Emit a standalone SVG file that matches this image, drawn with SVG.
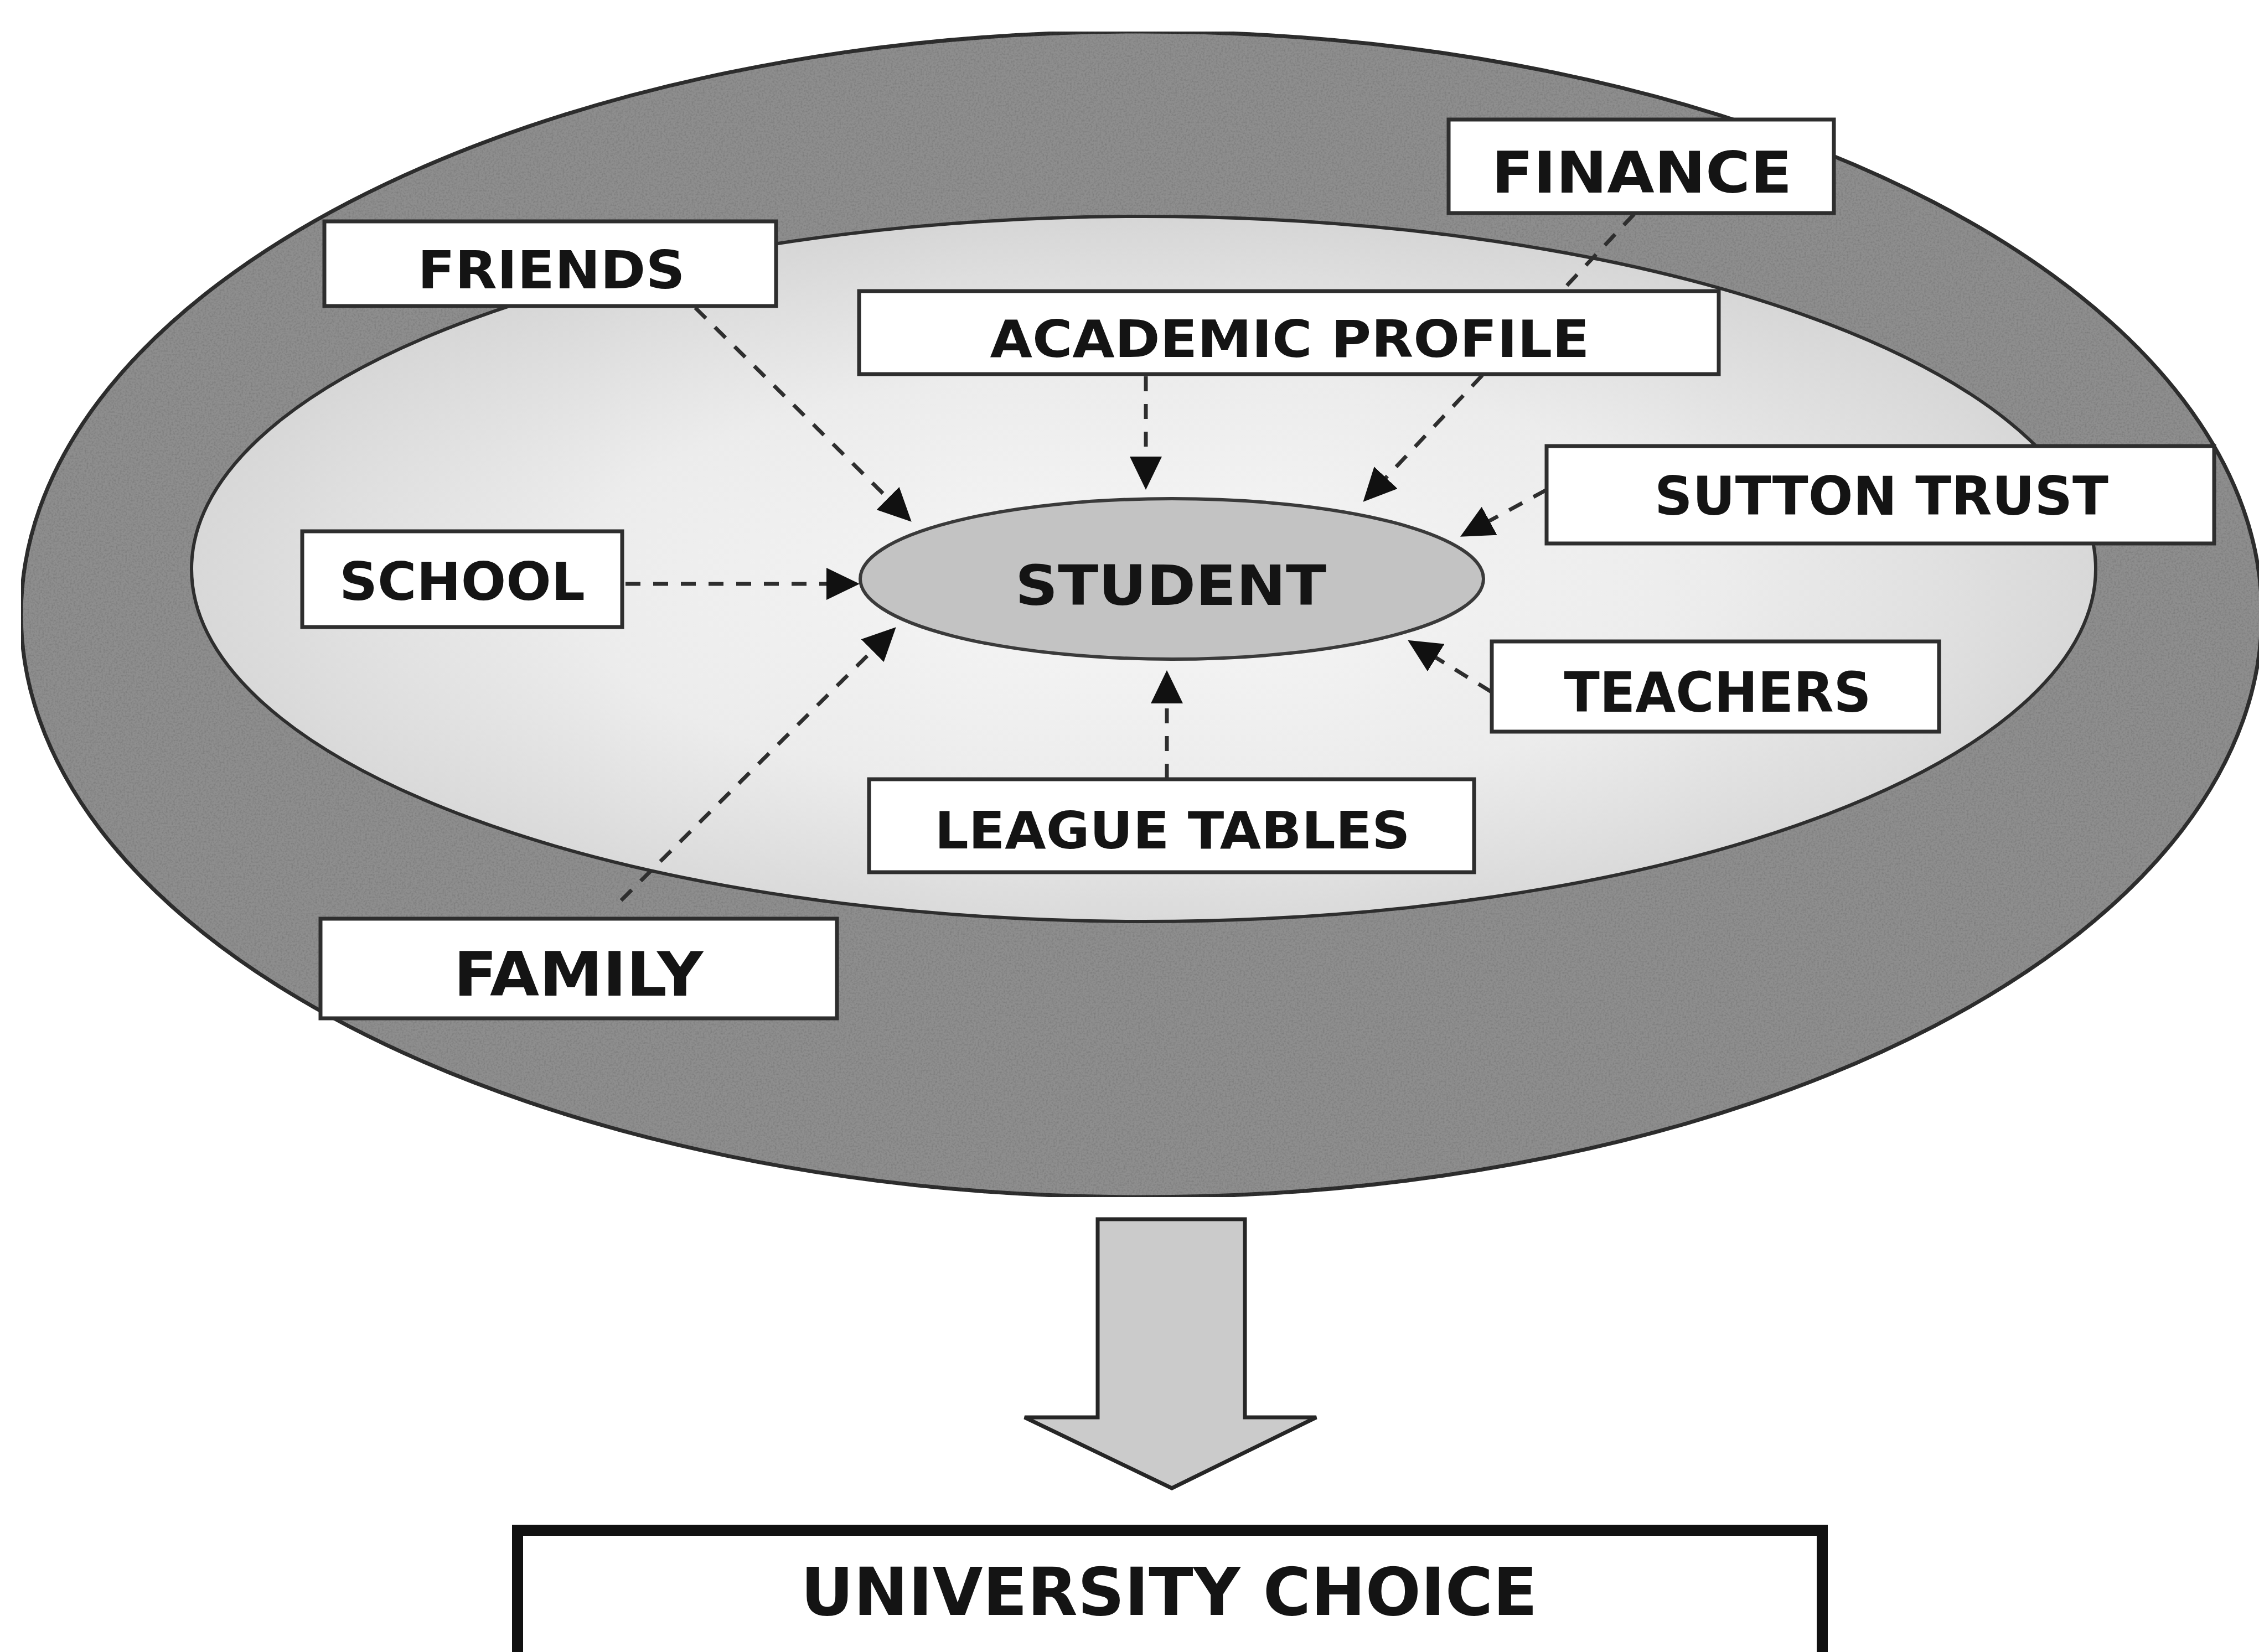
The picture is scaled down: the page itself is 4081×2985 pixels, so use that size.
<svg xmlns="http://www.w3.org/2000/svg" width="4081" height="2985" viewBox="0 0 4081 2985">
<style>
.box{fill:#ffffff;stroke:#2e2e2e;stroke-width:7}
.lbl{font-family:"DejaVu Sans","Liberation Sans",sans-serif;font-weight:bold;fill:#141414;text-anchor:middle}
.conn{fill:none;stroke:#2e2e2e;stroke-width:7;stroke-dasharray:27 23}
</style>
<defs>
<marker id="ah" markerUnits="userSpaceOnUse" markerWidth="60" markerHeight="58" refX="52" refY="29" orient="auto">
<path d="M0,0 L60,29 L0,58 z" fill="#111"/>
</marker>
<radialGradient id="innerG" cx="0.5" cy="0.52" r="0.55">
<stop offset="0" stop-color="#f6f6f6"/>
<stop offset="0.55" stop-color="#ececec"/>
<stop offset="1" stop-color="#d3d3d3"/>
</radialGradient>
<filter id="grain" x="0" y="0" width="1" height="1">
<feTurbulence type="fractalNoise" baseFrequency="0.3" numOctaves="2" seed="4" result="n"/>
<feColorMatrix in="n" type="matrix" values="0 0 0 0 0  0 0 0 0 0  0 0 0 0 0  0 0 0 -1.6 0.95" result="a"/>
<feComposite in="a" in2="SourceGraphic" operator="in" result="m"/>
<feComponentTransfer in="m" result="m2"><feFuncA type="linear" slope="0.35"/></feComponentTransfer>
<feMerge><feMergeNode in="SourceGraphic"/><feMergeNode in="m2"/></feMerge>
</filter>
</defs>
<rect x="0" y="0" width="4081" height="2985" fill="#ffffff"/>
<g id="outer-ring">
<ellipse cx="2062" cy="1110" rx="2024" ry="1053" fill="#8e8e8e" stroke="#2e2e2e" stroke-width="7" filter="url(#grain)"/>
</g>
<g id="inner-ring">
<ellipse cx="2066" cy="1028" rx="1720" ry="637" fill="url(#innerG)" stroke="#2e2e2e" stroke-width="6"/>
</g>
<g id="student">
<ellipse cx="2117" cy="1046" rx="563" ry="145" fill="#c3c3c3" stroke="#3a3a3a" stroke-width="6"/>
<text class="lbl" x="2115" y="1093" font-size="100" textLength="562" lengthAdjust="spacingAndGlyphs">STUDENT</text>
</g>
<g id="connectors">
<line class="conn" x1="1256" y1="556" x2="1641" y2="937" marker-end="url(#ah)"/>
<line class="conn" x1="2070" y1="680" x2="2070" y2="877" marker-end="url(#ah)"/>
<line class="conn" x1="2952" y1="387" x2="2468" y2="901" marker-end="url(#ah)"/>
<line class="conn" x1="2794" y1="885" x2="2645" y2="966" marker-end="url(#ah)"/>
<line class="conn" x1="1130" y1="1055" x2="1545" y2="1055" marker-end="url(#ah)"/>
<line class="conn" x1="1122" y1="1627" x2="1613" y2="1139" marker-end="url(#ah)"/>
<line class="conn" x1="2108" y1="1407" x2="2108" y2="1219" marker-end="url(#ah)"/>
<line class="conn" x1="2694" y1="1250" x2="2550" y2="1161" marker-end="url(#ah)"/>
</g>
<g id="friends">
<rect class="box" x="586" y="400" width="816" height="153"/>
<text class="lbl" x="996" y="521" font-size="94" textLength="483" lengthAdjust="spacingAndGlyphs">FRIENDS</text>
</g>
<g id="finance">
<rect class="box" x="2617" y="216" width="696" height="169"/>
<text class="lbl" x="2966" y="348" font-size="104" textLength="543" lengthAdjust="spacingAndGlyphs">FINANCE</text>
</g>
<g id="academic-profile">
<rect class="box" x="1552" y="526" width="1553" height="150"/>
<text class="lbl" x="2330" y="645" font-size="92" textLength="1083" lengthAdjust="spacingAndGlyphs">ACADEMIC PROFILE</text>
</g>
<g id="sutton-trust">
<rect class="box" x="2794" y="806" width="1206" height="176"/>
<text class="lbl" x="3399" y="930" font-size="96" textLength="820" lengthAdjust="spacingAndGlyphs">SUTTON TRUST</text>
</g>
<g id="school">
<rect class="box" x="546" y="960" width="578" height="173"/>
<text class="lbl" x="835" y="1084" font-size="95" textLength="444" lengthAdjust="spacingAndGlyphs">SCHOOL</text>
</g>
<g id="teachers">
<rect class="box" x="2695" y="1159" width="808" height="163"/>
<text class="lbl" x="3103" y="1286" font-size="100" textLength="555" lengthAdjust="spacingAndGlyphs">TEACHERS</text>
</g>
<g id="league-tables">
<rect class="box" x="1570" y="1408" width="1093" height="168"/>
<text class="lbl" x="2118" y="1533" font-size="92" textLength="859" lengthAdjust="spacingAndGlyphs">LEAGUE TABLES</text>
</g>
<g id="family">
<rect class="box" x="579" y="1660" width="933" height="180"/>
<text class="lbl" x="1045" y="1799" font-size="110" textLength="451" lengthAdjust="spacingAndGlyphs">FAMILY</text>
</g>
<g id="big-arrow">
<polygon points="1983,2203 2249,2203 2249,2561 2378,2561 2117,2689 1851,2561 1983,2561" fill="#cbcbcb" stroke="#262626" stroke-width="7" stroke-linejoin="miter"/>
</g>
<g id="university-choice">
<rect x="935" y="2765" width="2357" height="300" fill="#ffffff" stroke="#111111" stroke-width="20"/>
<text class="lbl" x="2112" y="2918" font-size="120" textLength="1331" lengthAdjust="spacingAndGlyphs">UNIVERSITY CHOICE</text>
</g>
</svg>
